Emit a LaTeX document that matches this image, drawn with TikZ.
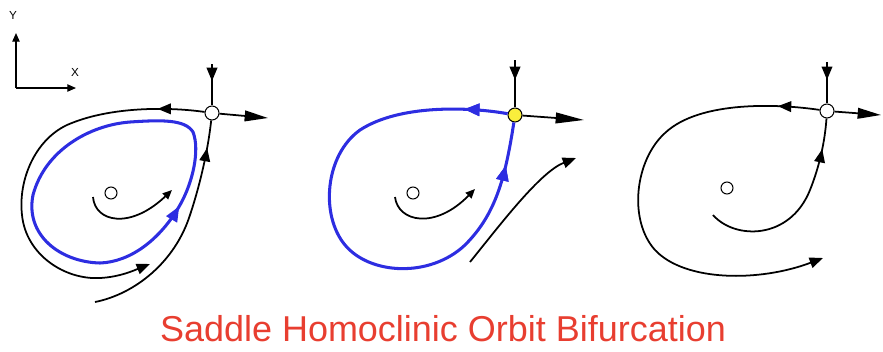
\documentclass[tikz,border=0pt]{standalone}
\usepackage{fontspec}
\setsansfont{Liberation Sans}
\usepackage{tikz}
\usetikzlibrary{arrows.meta,decorations.markings}
\definecolor{orbitblue}{RGB}{45,45,225}
\definecolor{titlered}{RGB}{232,62,48}
\definecolor{saddleyellow}{RGB}{250,238,60}

\begin{document}
\begin{tikzpicture}[
  x=0.03cm, y=-0.03cm,
  >={Triangle[length=4mm,width=3.2mm]},
  eqnode/.style={circle,draw,line width=0.9pt,fill=white,minimum size=4.2mm,inner sep=0pt},
  cnode/.style={circle,draw,line width=0.9pt,minimum size=3.6mm,inner sep=0pt},
  traj/.style={line width=1.5pt},
  orbit/.style={line width=2.6pt,color=orbitblue,>={Triangle[length=4.6mm,width=3.6mm]}},
  longtip/.style={-{Triangle[length=7mm,width=3.2mm]}},
  smalltip/.style={-{Triangle[length=2.8mm,width=2.4mm]}},
  midarrow/.style={postaction={decorate},decoration={markings,mark=at position #1 with {\arrow{>}}}},
  axis/.style={line width=1pt,-{Triangle[length=2.6mm,width=2.2mm]}},
  lab/.style={font=\sffamily\fontsize{10}{12}\selectfont},
  title/.style={font=\sffamily\fontsize{30.7}{36}\selectfont,text=titlered}
]
\useasboundingbox (0,0) rectangle (883,351);

% ===================== axes =====================
\coordinate (o) at (16,88);
\coordinate (ytip) at (16,33);
\coordinate (xtip) at (76,88);
\draw[axis] (o) -- (ytip);
\draw[axis] (o) -- (xtip);
\node[lab] (ylab) at (13,15) {Y};
\node[lab] (xlab) at (75,72) {X};

% ===================== LEFT: limit cycle inside the loop =====================
\node[eqnode] (s1) at (212,113) {};
\node[cnode] (c1) at (111,193) {};
\coordinate (s1top) at (212,64);
\coordinate (s1right) at (268,118);
\coordinate (s1out) at (150,264);
\coordinate (s1in) at (95,302);
\coordinate (sp1a) at (93,197);
\coordinate (sp1b) at (172,190);

\draw[traj,midarrow=0.41] (s1top) -- (s1);
\draw[traj,longtip] (s1) -- (s1right);
\draw[traj,->,midarrow=0.115] (s1) .. controls (170,107) and (110,106) .. (67,125)
  .. controls (35,140) and (18,180) .. (22,215)
  .. controls (26,255) and (65,280) .. (100,278)
  .. controls (120,277) and (135,270) .. (s1out);
\draw[traj,midarrow=0.88] (s1in) .. controls (135,294) and (175,262) .. (190,215)
  .. controls (200,185) and (208,150) .. (s1);

% blue limit cycle
\draw[orbit,midarrow=0.21] (100,263) .. controls (130,262) and (160,240) .. (180,205)
  .. controls (193,182) and (200,150) .. (193,132)
  .. controls (185,119) and (160,120) .. (130,122)
  .. controls (90,125) and (45,150) .. (33,195)
  .. controls (25,235) and (60,262) .. cycle;

\draw[traj,smalltip] (sp1a) .. controls (95,222) and (130,230) .. (sp1b);

% ===================== MIDDLE: homoclinic orbit =====================
\node[eqnode,fill=saddleyellow] (s2) at (515,115) {};
\node[cnode] (c2) at (413,193) {};
\coordinate (s2top) at (515,60);
\coordinate (s2right) at (584,120);
\coordinate (sp2a) at (395,197);
\coordinate (sp2b) at (475,189);
\coordinate (f2a) at (470,262);
\coordinate (f2b) at (576,158);

\draw[traj,midarrow=0.42] (s2top) -- (s2);
\draw[traj,-{Triangle[length=8.5mm,width=3.2mm]}] (s2) -- (s2right);

% blue homoclinic loop
\draw[orbit,midarrow=0.08,midarrow=0.92] (s2) .. controls (470,107) and (400,104) .. (360,130)
  .. controls (325,155) and (320,215) .. (345,245)
  .. controls (370,275) and (430,278) .. (465,245)
  .. controls (495,215) and (505,180) .. (s2);

\draw[traj,smalltip] (sp2a) .. controls (398,222) and (435,230) .. (sp2b);
\draw[traj,->] (f2a) .. controls (500,225) and (540,172) .. (f2b);

% ===================== RIGHT: after the bifurcation =====================
\node[eqnode] (s3) at (827,111) {};
\node[cnode] (c3) at (727,188) {};
\coordinate (s3top) at (827,62);
\coordinate (s3right) at (881,115);
\coordinate (s3out) at (823,258);
\coordinate (s3in) at (713,215);

\draw[traj,midarrow=0.43] (s3top) -- (s3);
\draw[traj,longtip] (s3) -- (s3right);
\draw[traj,->,midarrow=0.09] (s3) .. controls (780,104) and (700,100) .. (665,133)
  .. controls (635,160) and (628,220) .. (655,250)
  .. controls (685,282) and (760,282) .. (s3out);
\draw[traj,midarrow=0.84] (s3in) .. controls (735,240) and (790,240) .. (810,190)
  .. controls (820,165) and (825,140) .. (s3);

% title
\node[title] (ttl) at (443,329) {Saddle Homoclinic Orbit Bifurcation};

\end{tikzpicture}
\end{document}
